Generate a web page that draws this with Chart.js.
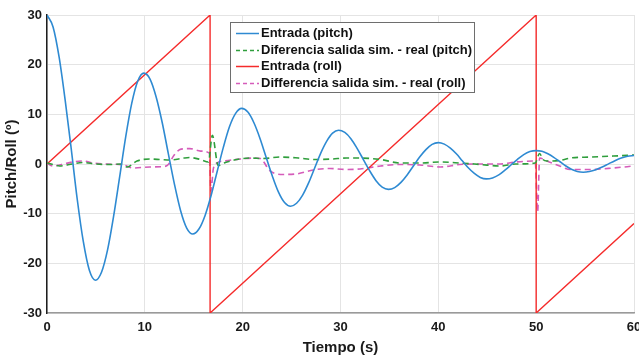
<!DOCTYPE html>
<html>
<head>
<meta charset="utf-8">
<script src="https://cdn.jsdelivr.net/npm/chart.js@4/dist/chart.umd.min.js"></script>
<style>
  html, body { margin: 0; padding: 0; background: #ffffff; }
  #wrap { width: 639px; height: 357px; position: relative; }
</style>
</head>
<body>
<div id="wrap"><canvas id="c" width="639" height="357"></canvas></div>
<script>
// Pitch input (damped oscillation)
const pitchTime = [
  0,0.62,1.24,1.86,2.48,3.09,3.71,4.33,
  4.95,5.57,6.19,6.81,7.43,8.04,8.66,9.28,
  9.9,10.53,11.15,11.78,12.4,13.03,13.65,14.28,
  14.9,15.53,16.15,16.78,17.4,18.03,18.65,19.28,
  19.9,20.53,21.15,21.78,22.4,23.03,23.65,24.28,
  24.9,25.51,26.13,26.74,27.35,27.96,28.58,29.19,
  29.8,30.44,31.08,31.71,32.35,32.99,33.63,34.26,
  34.9,35.54,36.18,36.81,37.45,38.09,38.73,39.36,
  40,40.61,41.23,41.84,42.45,43.06,43.68,44.29,
  44.9,45.54,46.18,46.81,47.45,48.09,48.73,49.36,
  50,50.6,51.2,51.8,52.4,53.0,53.6,54.2,
  54.8,55.45,56.1,56.75,57.4,58.05,58.7,59.35,60
];
const pitchInput = [
  30,27.6,21.5,12.8,3.0,-7.1,-15.6,-21.4,
  -23.4,-21.8,-17.3,-10.5,-2.55,5.4,12.2,16.7,
  18.3,17.1,13.55,8.3,2.1,-4.1,-9.35,-12.9,
  -14.1,-13.1,-10.4,-6.3,-1.45,3.4,7.5,10.2,
  11.2,10.45,8.3,5.1,1.35,-2.4,-5.6,-7.75,
  -8.5,-7.9,-6.25,-3.8,-0.85,2.1,4.55,6.2,
  6.8,6.35,5.05,3.1,0.85,-1.4,-3.35,-4.65,
  -5.1,-4.75,-3.7,-2.2,-0.4,1.4,2.9,3.95,
  4.3,4.0,3.2,2.05,0.65,-0.75,-1.9,-2.7,
  -3.0,-2.8,-2.2,-1.25,-0.15,0.95,1.9,2.5,
  2.7,2.55,2.05,1.35,0.5,-0.35,-1.05,-1.5,
  -1.65,-1.52,-1.16,-0.62,0.03,0.67,1.21,1.57,1.7
];

// Pitch: simulated minus real output
const pitchDiffTime = [0,0.6,1.3,2.6,3.7,5.0,6.5,7.5,8.2,9.2,10.5,11.6,12.6,14.0,14.6,15.7,16.5,16.9,17.5,18.1,19.4,20.7,22.1,23.8,25.7,27.4,29.1,30.6,32.0,34.1,36.1,38.1,40.2,42.2,44.3,46.3,47.9,49.9,50.35,50.7,51.1,52.4,53.5,55.5,57.9,60];
const pitchDiff = [0.2,-0.1,-0.4,0.0,0.3,0.0,-0.1,0.0,-0.6,0.6,1.0,0.9,0.8,1.2,1.3,0.9,0.4,5.8,-0.3,0.2,0.9,1.2,1.1,1.4,1.2,0.9,1.0,1.2,1.2,0.9,0.2,0.2,0.4,0.2,-0.1,-0.4,0.0,0.2,2.1,0.9,0.6,0.7,1.2,1.4,1.6,1.8];

// Roll input (sawtooth)
const rollTime = [0,16.67,16.67,50,50,60];
const rollInput = [0,30,-30,30,-30,-12];

// Roll: simulated minus real output
const rollDiffTime = [0,0.6,1.5,2.6,3.7,4.7,6.1,7.8,8.8,10.5,12.0,12.4,13.0,13.7,14.6,15.7,16.6,16.75,17.0,17.35,18.1,19.8,21.1,21.8,22.8,24.2,25.5,27.2,28.9,30.6,32.0,34.1,36.1,38.1,40.2,42.2,44.3,46.3,47.9,49.9,50.15,50.35,51.1,52.4,53.5,55.5,57.9,60];
const rollDiff = [0.2,-0.4,-0.1,0.4,0.6,0.2,0.0,-0.2,-0.8,-0.6,-0.5,-0.1,1.8,3.0,3.1,2.6,2.2,-5.5,-1.0,0.2,0.6,1.0,1.2,1.1,-1.4,-2.1,-2.0,-1.2,-0.9,-1.1,-1.0,-0.4,-0.1,-0.2,-0.6,-0.1,0.0,0.0,0.4,0.6,-9.6,1.2,0.6,-0.4,-1.1,-1.1,-0.8,-0.4];

const seriesLabels = [
  'Entrada (pitch)',
  'Diferencia salida sim. - real (pitch)',
  'Entrada (roll)',
  'Differencia salida sim. - real (roll)'
];
const xTicks = [0, 10, 20, 30, 40, 50, 60];
const yTicks = [-30, -20, -10, 0, 10, 20, 30];

const BLUE = '#2e8ad2';
const GREEN = '#2f9e3c';
const RED = '#f52b2b';
const MAGENTA = '#d55cba';
const DASH = [6, 4];
const FONT = "'Liberation Sans', Arial, Helvetica, sans-serif";

function pairs(xs, ys) {
  return xs.map((x, i) => ({ x: x, y: ys[i] }));
}

const datasets = [
  { label: seriesLabels[0], data: pairs(pitchTime, pitchInput), borderColor: BLUE, borderWidth: 1.6, cubicInterpolationMode: 'monotone' },
  { label: seriesLabels[1], data: pairs(pitchDiffTime, pitchDiff), borderColor: GREEN, borderWidth: 1.6, borderDash: DASH, cubicInterpolationMode: 'monotone' },
  { label: seriesLabels[2], data: pairs(rollTime, rollInput), borderColor: RED, borderWidth: 1.4, tension: 0 },
  { label: seriesLabels[3], data: pairs(rollDiffTime, rollDiff), borderColor: MAGENTA, borderWidth: 1.6, borderDash: DASH, cubicInterpolationMode: 'monotone' }
];

// Boxed legend drawn inside the plot area, on top of the lines
const boxLegend = {
  id: 'boxLegend',
  afterDraw(chart) {
    const ctx = chart.ctx;
    const a = chart.chartArea;
    const bx = a.left + 183, by = a.top + 7, bw = 244, bh = 70;
    ctx.save();
    ctx.fillStyle = '#ffffff';
    ctx.fillRect(bx, by, bw, bh);
    ctx.strokeStyle = '#6e6e6e';
    ctx.lineWidth = 1;
    ctx.strokeRect(bx + 0.5, by + 0.5, bw, bh);
    ctx.font = 'bold 13px ' + FONT;
    ctx.textBaseline = 'middle';
    ctx.textAlign = 'left';
    chart.data.datasets.forEach((ds, i) => {
      const y = by + 11 + i * 16.6;
      ctx.strokeStyle = ds.borderColor;
      ctx.lineWidth = 1.5;
      ctx.setLineDash(ds.borderDash ? [4, 3] : []);
      ctx.beginPath();
      ctx.moveTo(bx + 6, Math.round(y) + 0.5);
      ctx.lineTo(bx + 29, Math.round(y) + 0.5);
      ctx.stroke();
      ctx.setLineDash([]);
      ctx.fillStyle = '#111111';
      ctx.fillText(ds.label, bx + 31, y + 0.5);
    });
    ctx.restore();
  }
};

new Chart(document.getElementById('c'), {
  type: 'line',
  data: { datasets: datasets },
  options: {
    responsive: false,
    animation: false,
    devicePixelRatio: 1,
    layout: { padding: { left: 0, right: 5, top: 15, bottom: 0 } },
    elements: { point: { radius: 0 }, line: { fill: false } },
    plugins: { legend: { display: false }, tooltip: { enabled: false } },
    scales: {
      x: {
        type: 'linear',
        min: 0, max: 60,
        afterBuildTicks(scale) { scale.ticks = xTicks.map(v => ({ value: v })); },
        afterFit(scale) { scale.height = 44; scale.paddingLeft = 0; scale.paddingRight = 0; },
        grid: { color: '#e4e4e4', lineWidth: 1, drawTicks: false },
        border: { color: '#9a9a9a', width: 1.5 },
        ticks: { padding: 7, color: '#1a1a1a', font: { family: FONT, size: 13, weight: 'bold' }, maxRotation: 0 },
        title: { display: true, text: 'Tiempo (s)', color: '#1a1a1a', font: { family: FONT, size: 15, weight: 'bold' }, padding: { top: 0, bottom: 0 } }
      },
      y: {
        type: 'linear',
        min: -30, max: 30,
        afterBuildTicks(scale) { scale.ticks = yTicks.map(v => ({ value: v })); },
        afterFit(scale) { scale.width = 47; scale.paddingTop = 0; scale.paddingBottom = 0; },
        grid: { color: '#e4e4e4', lineWidth: 1, drawTicks: false },
        border: { color: '#1e1e1e', width: 1.5 },
        ticks: { padding: 5, color: '#1a1a1a', font: { family: FONT, size: 13, weight: 'bold' } },
        title: { display: true, text: 'Pitch/Roll (º)', color: '#1a1a1a', font: { family: FONT, size: 15, weight: 'bold' }, padding: { top: 3, bottom: 0 } }
      }
    }
  },
  plugins: [boxLegend]
});
</script>
</body>
</html>
